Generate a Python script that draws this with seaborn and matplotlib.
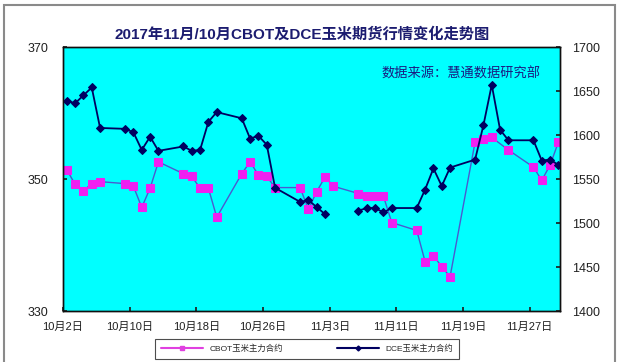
import pandas as pd
import seaborn as sns
import matplotlib.pyplot as plt
from matplotlib.lines import Line2D
from matplotlib.patches import Rectangle

# CBOT corn (left axis, cents/bu)
cbot_dates = ['2017-10-02', '2017-10-03', '2017-10-04', '2017-10-05', '2017-10-06',
              '2017-10-09', '2017-10-10', '2017-10-11', '2017-10-12', '2017-10-13',
              '2017-10-16', '2017-10-17', '2017-10-18', '2017-10-19', '2017-10-20',
              '2017-10-23', '2017-10-24', '2017-10-25', '2017-10-26', '2017-10-27',
              '2017-10-30', '2017-10-31', '2017-11-01', '2017-11-02', '2017-11-03',
              '2017-11-06', '2017-11-07', '2017-11-08', '2017-11-09', '2017-11-10',
              '2017-11-13', '2017-11-14', '2017-11-15', '2017-11-16', '2017-11-17',
              '2017-11-20', '2017-11-21', '2017-11-22', '2017-11-24',
              '2017-11-27', '2017-11-28', '2017-11-29', '2017-11-30']
cbot_price = [351.4, 349.2, 348.2, 349.3, 349.6,
              349.3, 348.9, 345.7, 348.6, 352.6,
              350.8, 350.4, 348.6, 348.6, 344.2,
              350.8, 352.6, 350.6, 350.4, 348.7,
              348.7, 345.4, 348.1, 350.3, 348.9,
              347.8, 347.4, 347.4, 347.4, 343.4,
              342.2, 337.5, 338.4, 336.7, 335.2,
              355.6, 356.1, 356.3, 354.4,
              351.8, 349.8, 352.1, 355.6]

# DCE corn (right axis, yuan/t), None = no quote
dce_dates = ['2017-10-02', '2017-10-03', '2017-10-04', '2017-10-05', '2017-10-06',
             '2017-10-09', '2017-10-10', '2017-10-11', '2017-10-12', '2017-10-13',
             '2017-10-16', '2017-10-17', '2017-10-18', '2017-10-19', '2017-10-20',
             '2017-10-23', '2017-10-24', '2017-10-25', '2017-10-26', '2017-10-27',
             '2017-10-30', '2017-10-31', '2017-11-01', '2017-11-02', '2017-11-03',
             '2017-11-06', '2017-11-07', '2017-11-08', '2017-11-09', '2017-11-10',
             '2017-11-13', '2017-11-14', '2017-11-15', '2017-11-16', '2017-11-17',
             '2017-11-20', '2017-11-21', '2017-11-22', '2017-11-23', '2017-11-24',
             '2017-11-27', '2017-11-28', '2017-11-29', '2017-11-30']
dce_price = [1639, 1636, 1645, 1654, 1608,
             1607, 1603, 1583, 1598, 1582,
             1587, 1582, 1583, 1615, 1626,
             1619, 1596, 1599, 1589, 1540,
             1524, 1526, 1518, 1510, None,
             1514, 1517, 1517, 1512, 1517,
             1517, 1538, 1562, 1542, 1563,
             1572, 1611, 1657, 1606, 1594,
             1594, 1571, 1572, 1566]

tick_dates = ['2017-10-02', '2017-10-10', '2017-10-18', '2017-10-26',
              '2017-11-03', '2017-11-11', '2017-11-19', '2017-11-27']
tick_labels = ['10月2日', '10月10日', '10月18日', '10月26日',
               '11月3日', '11月11日', '11月19日', '11月27日']

sns.set_theme(style='white')
plt.rcParams['font.family'] = ['Liberation Sans', 'Noto Sans CJK SC']

start = pd.Timestamp('2017-10-02')
cbot = pd.DataFrame({'date': pd.to_datetime(cbot_dates), 'price': cbot_price})
cbot['x'] = (cbot['date'] - start).dt.days + 0.45
dce = pd.DataFrame({'date': pd.to_datetime(dce_dates),
                    'price': pd.to_numeric(pd.Series(dce_price, dtype=object))})
dce['x'] = (dce['date'] - start).dt.days + 0.45
dce['seg'] = dce['price'].isna().cumsum()
dce = dce.dropna()
ticks = (pd.to_datetime(tick_dates) - start).days

fig = plt.figure(figsize=(6.2, 3.62), dpi=100)
ax = fig.add_axes([63/620, 1 - 311/362, 497/620, 264/362])
ax.set_facecolor('#00ffff')
ax2 = ax.twinx()

sns.lineplot(data=cbot, x='x', y='price', ax=ax, estimator=None, sort=False,
             color='#4a5ad0', lw=1, marker='s', markersize=6,
             markerfacecolor='#f020f0', markeredgecolor='#f020f0')
sns.lineplot(data=dce, x='x', y='price', units='seg', estimator=None, ax=ax2,
             color='#000060', lw=1.3, marker='D', markersize=4.5,
             markerfacecolor='#000060', markeredgecolor='#000060')

ax.set_xlim(0, 59.64)
ax.set_ylim(330, 370)
ax.set_yticks([330, 350, 370])
ax2.set_ylim(1400, 1700)
ax2.set_yticks(range(1400, 1701, 50))
ax.set_xticks(ticks)
ax.set_xticklabels(tick_labels)
for a in (ax, ax2):
    a.set_xlabel('')
    a.set_ylabel('')
    for s in a.spines.values():
        s.set_color('#101010')
        s.set_linewidth(1)
ax.tick_params(axis='x', direction='in', length=3, labelsize=8, pad=8, colors='#202020', bottom=True)
ax.tick_params(axis='y', direction='in', length=3, labelsize=9, pad=10.5, colors='#202020', left=True)
ax2.tick_params(axis='y', direction='in', length=3, labelsize=9, pad=9, colors='#202020', right=True)

fig.text(0.487, 0.905, '2017年11月/10月CBOT及DCE玉米期货行情变化走势图',
         ha='center', va='center', fontsize=11, fontweight='bold', color='#1c1c70')
fig.text(461/620, 1 - 74/362, '数据来源：慧通数据研究部',
         ha='center', va='center', fontsize=9.5, color='#1a1a80')

handles = [Line2D([], [], color='#e040e0', lw=1.5, marker='s', markersize=2.5),
           Line2D([], [], color='#000060', lw=1.5, marker='D', markersize=2.5)]
leg = fig.legend(handles, ['CBOT玉米主力合约', 'DCE玉米主力合约'], ncol=2,
                 loc='center', bbox_to_anchor=(307/620, 1 - 349/362),
                 fontsize=6, frameon=True, fancybox=False, handlelength=5,
                 columnspacing=6.5, borderpad=0.7, borderaxespad=0)
leg.get_frame().set_edgecolor('#202020')
leg.get_frame().set_linewidth(0.8)

fig.patches.append(Rectangle((4/620, -0.01), 611/620, 1 - 5/362 + 0.01,
                             transform=fig.transFigure, fill=False,
                             edgecolor='#8a8a8a', lw=1.5))

plt.savefig('out.png', dpi=100)
